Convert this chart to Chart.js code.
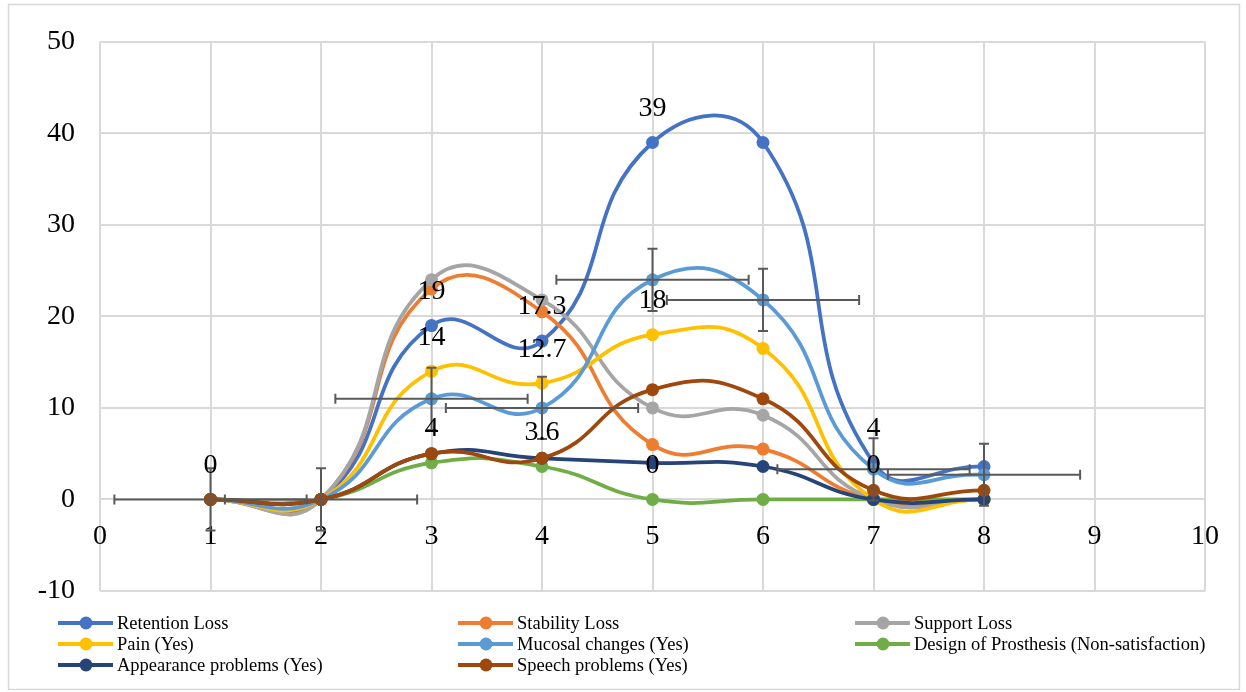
<!DOCTYPE html>
<html>
<head>
<meta charset="utf-8">
<script src="https://cdn.jsdelivr.net/npm/chart.js@4/dist/chart.umd.min.js"></script>
<style>
  html, body { margin: 0; padding: 0; background: #fff; }
  #wrap { position: relative; width: 1246px; height: 692px; }
</style>
</head>
<body>
<div id="wrap"><canvas id="myChart" width="1246" height="692"></canvas></div>
<script>
// x positions of the points
const xValues = [1, 2, 3, 4, 5, 6, 7, 8];

// series values
const retentionLoss      = [0, 0, 19, 17.3, 39, 39, 4, 3.6];
const stabilityLoss      = [0, 0, 23, 20.5, 6, 5.5, 0, 0];
const supportLoss        = [0, 0, 24, 21.8, 10, 9.2, 0, 0];
const painYes            = [0, 0, 14, 12.7, 18, 16.5, 0, 0];
const mucosalChanges     = [0, 0, 11, 10, 24, 21.8, 3.3, 2.7];
const designOfProsthesis = [0, 0, 4, 3.6, 0, 0, 0, 0];
const appearanceProblems = [0, 0, 5, 4.5, 4, 3.6, 0, 0];
const speechProblems     = [0, 0, 5, 4.5, 12, 11, 1, 1];

// error bars (on Mucosal changes)
const mucosalErrX = [0.87, 0.87, 0.87, 0.87, 0.87, 0.87, 0.87, 0.87];
const mucosalErrY = [3.4, 3.4, 3.4, 3.4, 3.4, 3.4, 3.4, 3.4];

// data labels shown on the picture
const retentionLabels = ['0', null, '19', '17.3', '39', null, '4', null];
const painLabels      = [null, null, '14', '12.7', '18', null, '0', null];
const designLabels    = [null, null, '4', '3.6', '0', null, null, null];

// axis ticks
const xTicks = [0, 1, 2, 3, 4, 5, 6, 7, 8, 9, 10];
const yTicks = [-10, 0, 10, 20, 30, 40, 50];

const seriesNames = [
  'Retention Loss', 'Stability Loss', 'Support Loss',
  'Pain (Yes)', 'Mucosal changes (Yes)', 'Design of Prosthesis (Non-satisfaction)',
  'Appearance problems (Yes)', 'Speech problems (Yes)'
];
const seriesValues = [retentionLoss, stabilityLoss, supportLoss, painYes,
  mucosalChanges, designOfProsthesis, appearanceProblems, speechProblems];
const seriesColors = ['#4472C4', '#ED7D31', '#A5A5A5', '#FFC000',
  '#5B9BD5', '#70AD47', '#264478', '#9E480E'];

const FONT = '"Liberation Serif", "Times New Roman", serif';

const datasets = seriesNames.map((name, i) => ({
  label: name,
  data: xValues.map((x, j) => ({ x: x, y: seriesValues[i][j] })),
  borderColor: seriesColors[i],
  backgroundColor: seriesColors[i],
  borderWidth: 3.75,
  pointRadius: 6.5,
  pointBorderWidth: 0,
  tension: 0.5,
  fill: false,
  order: seriesNames.length - i
}));

const extras = {
  id: 'extras',
  beforeDraw(chart) {
    const c = chart.ctx;
    c.save();
    c.strokeStyle = '#D9D9D9';
    c.lineWidth = 1.5;
    c.strokeRect(8.5, 4.5, 1231, 685);
    c.restore();
  },
  afterDatasetsDraw(chart) {
    const c = chart.ctx;
    const xs = chart.scales.x, ys = chart.scales.y;
    // error bars
    c.save();
    c.strokeStyle = '#595959';
    c.lineWidth = 2;
    const cap = 5;
    xValues.forEach((xv, i) => {
      const px = xs.getPixelForValue(xv);
      const py = ys.getPixelForValue(mucosalChanges[i]);
      const x1 = xs.getPixelForValue(xv - mucosalErrX[i]);
      const x2 = xs.getPixelForValue(xv + mucosalErrX[i]);
      const y1 = ys.getPixelForValue(mucosalChanges[i] + mucosalErrY[i]);
      const y2 = ys.getPixelForValue(mucosalChanges[i] - mucosalErrY[i]);
      c.beginPath();
      c.moveTo(x1, py); c.lineTo(x2, py);
      c.moveTo(x1, py - cap); c.lineTo(x1, py + cap);
      c.moveTo(x2, py - cap); c.lineTo(x2, py + cap);
      c.moveTo(px, y1); c.lineTo(px, y2);
      c.moveTo(px - cap, y1); c.lineTo(px + cap, y1);
      c.moveTo(px - cap, y2); c.lineTo(px + cap, y2);
      c.stroke();
    });
    c.restore();

    // data labels
    c.save();
    c.fillStyle = '#000';
    c.font = '28px ' + FONT;
    c.textAlign = 'center';
    c.textBaseline = 'middle';
    [[retentionLabels, retentionLoss], [painLabels, painYes], [designLabels, designOfProsthesis]]
      .forEach(([labels, vals]) => {
        labels.forEach((t, i) => {
          if (t === null) return;
          c.fillText(t, xs.getPixelForValue(xValues[i]), ys.getPixelForValue(vals[i]) - 34);
        });
      });
    c.restore();

    // legend, three columns like the original
    const colX = [58, 458, 855];
    const rowY = [623, 644, 665];
    c.save();
    c.font = '18.5px ' + FONT;
    c.textBaseline = 'middle';
    c.textAlign = 'left';
    chart.data.datasets.forEach((ds, i) => {
      const lx = colX[i % 3], ly = rowY[Math.floor(i / 3)];
      c.strokeStyle = ds.borderColor;
      c.lineWidth = 4;
      c.beginPath();
      c.moveTo(lx, ly); c.lineTo(lx + 55, ly);
      c.stroke();
      c.fillStyle = ds.borderColor;
      c.beginPath();
      c.arc(lx + 28, ly, 6.5, 0, Math.PI * 2);
      c.fill();
      c.fillStyle = '#000';
      c.fillText(ds.label, lx + 59, ly + 1);
    });
    c.restore();
  }
};

const ctx = document.getElementById('myChart').getContext('2d');
const myChart = new Chart(ctx, {
  type: 'line',
  data: { datasets: datasets },
  plugins: [extras],
  options: {
    responsive: false,
    animation: false,
    layout: { padding: { left: 0, top: 39, right: 41, bottom: 101 } },
    scales: {
      x: {
        type: 'linear',
        position: { y: 0 },
        min: 0, max: 10,
        afterBuildTicks: (scale) => { scale.ticks = xTicks.map(v => ({ value: v })); },
        grid: { color: '#D9D9D9', lineWidth: 2, drawTicks: false },
        border: { display: false },
        ticks: { color: '#000', padding: 20, font: { family: FONT, size: 28 } }
      },
      y: {
        type: 'linear',
        position: 'left',
        min: -10, max: 50,
        afterBuildTicks: (scale) => { scale.ticks = yTicks.map(v => ({ value: v })); },
        afterFit: (scale) => { scale.width = 100; },
        grid: { color: '#D9D9D9', lineWidth: 2, drawTicks: false },
        border: { display: false },
        ticks: { color: '#000', padding: 25, font: { family: FONT, size: 28 } }
      }
    },
    plugins: {
      legend: { display: false },
      tooltip: { enabled: false },
      title: { display: false }
    }
  }
});
</script>
</body>
</html>
